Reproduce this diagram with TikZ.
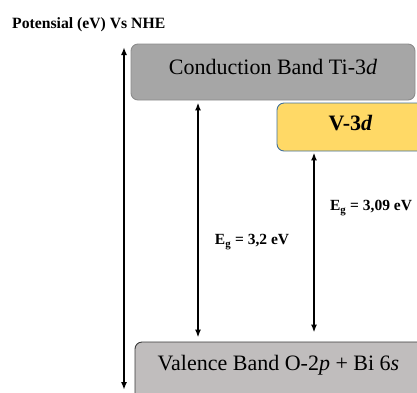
\documentclass[tikz,border=0pt]{standalone}
\usepackage{fontspec}
\setmainfont{Liberation Serif}
\usetikzlibrary{arrows.meta}
\definecolor{cbfill}{HTML}{A6A6A6}
\definecolor{cbdraw}{HTML}{8C8C8C}
\definecolor{vfill}{HTML}{FFD966}
\definecolor{vdraw}{HTML}{41719C}
\definecolor{vbfill}{HTML}{C0BDBD}
\definecolor{vbdraw}{HTML}{3A3A3A}
\tikzset{
  band/.style={rounded corners=7pt, line width=0.9pt, inner sep=0pt},
  gap/.style={{Latex[length=8pt,width=6pt]}-{Latex[length=8pt,width=6pt]}, line width=1.8pt},
  eg/.style={font=\bfseries\fontsize{15.5}{18}\selectfont, inner sep=0pt},
  bandtext/.style={font=\fontsize{22}{26}\selectfont}
}
\begin{document}
\begin{tikzpicture}[x=1pt,y=-1pt]
\useasboundingbox (0,0) rectangle (417,392);
\clip (0,0) rectangle (417,392);
\node[anchor=base west, inner sep=0pt, font=\bfseries\fontsize{15.7}{18}\selectfont] (title) at (12,28) {Potensial (eV) Vs NHE};
\node[band, draw=cbdraw, fill=cbfill, minimum width=284pt, minimum height=56pt, text height=15pt, text depth=11pt, bandtext] (cb) at (273,72) {Conduction Band Ti-3\textit{d}};
\node[band, draw=vdraw, fill=vfill, minimum width=147pt, minimum height=48pt, text height=15pt, text depth=9pt, font=\bfseries\fontsize{22}{26}\selectfont] (v) at (350.5,127) {V-3\textit{d}};
\node[band, draw=vbdraw, fill=vbfill, minimum width=300pt, minimum height=70pt] (vb) at (285,377) {};
\node[bandtext, anchor=base, inner sep=0pt] (vbt) at (278.5,370) {Valence Band O-2\textit{p} + Bi 6\textit{s}};
\coordinate (a1) at (198,0);
\coordinate (a2) at (314,0);
\coordinate (ltop) at (124,47);
\coordinate (lbot) at (124,390);
\draw[gap] (ltop) -- (lbot);
\draw[gap, shorten <=2pt, shorten >=4pt] (cb.south -| a1) -- (vb.north -| a1);
\draw[gap, shorten <=1pt, shorten >=9pt] (v.south -| a2) -- (vb.north -| a2);
\node[eg] (eg1) at (252,242) {E\textsubscript{g} = 3,2 eV};
\node[eg] (eg2) at (371,208) {E\textsubscript{g} = 3,09 eV};
\end{tikzpicture}
\end{document}
